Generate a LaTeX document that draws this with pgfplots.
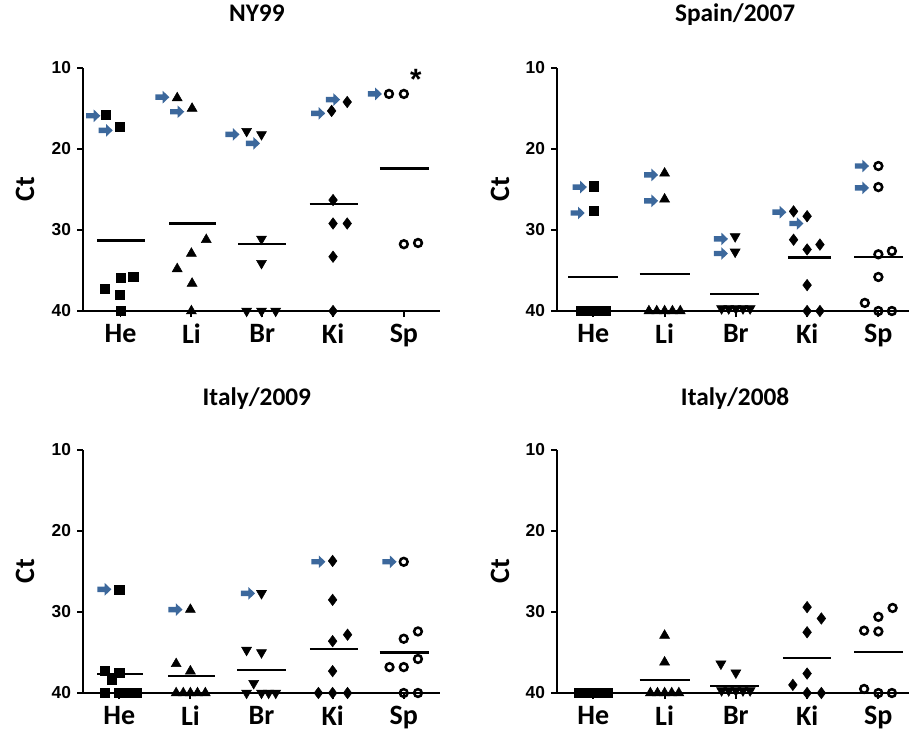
\documentclass[border=0pt]{standalone}
\usepackage{pgfplots}
\pgfplotsset{compat=1.18}
\usepackage{fontspec}
\setmainfont{Carlito}
\newfontfamily\tickfont{Liberation Sans}
\definecolor{arrowblue}{RGB}{60,104,156}
\pgfdeclareplotmark{rarrow}{%
 \pgfpathmoveto{\pgfqpoint{-\pgfplotmarksize}{-0.38\pgfplotmarksize}}%
 \pgfpathlineto{\pgfqpoint{0.05\pgfplotmarksize}{-0.38\pgfplotmarksize}}%
 \pgfpathlineto{\pgfqpoint{0.05\pgfplotmarksize}{-0.9\pgfplotmarksize}}%
 \pgfpathlineto{\pgfqpoint{\pgfplotmarksize}{0pt}}%
 \pgfpathlineto{\pgfqpoint{0.05\pgfplotmarksize}{0.9\pgfplotmarksize}}%
 \pgfpathlineto{\pgfqpoint{0.05\pgfplotmarksize}{0.38\pgfplotmarksize}}%
 \pgfpathlineto{\pgfqpoint{-\pgfplotmarksize}{0.38\pgfplotmarksize}}%
 \pgfpathclose\pgfusepathqfill}
\pgfplotsset{
  heM/.style={only marks, mark=square*, mark size=3.4pt, black},
  liM/.style={only marks, mark=triangle*, mark size=4.3pt, black},
  brM/.style={only marks, mark=triangle*, mark size=4.3pt, black, mark options={rotate=180}},
  kiM/.style={only marks, mark=diamond*, mark size=4.3pt, black},
  spM/.style={only marks, mark=o, mark size=2.9pt, black, mark options={line width=1.9pt}},
  arrM/.style={only marks, mark=rarrow, mark size=5.3pt, arrowblue},
  meanM/.style={black, line width=1.6pt, forget plot},
  axM/.style={black, line width=1.4pt, forget plot, no markers},
}
% axis lines and tick marks drawn through the axis (#1 = xmin, #2 = xmax, #3 = tick end x)
\newcommand{\axdeco}[3]{%
 \addplot[axM] coordinates {(#1,10) (#1,40) (#2,40)};
 \addplot[axM] coordinates {(#1,10) (#3,10)};
 \addplot[axM] coordinates {(#1,20) (#3,20)};
 \addplot[axM] coordinates {(#1,30) (#3,30)};
 \addplot[axM] coordinates {(#1,40) (#3,40)};
 \addplot[axM] coordinates {(1,40) (1,40.74)};
 \addplot[axM] coordinates {(2,40) (2,40.74)};
 \addplot[axM] coordinates {(3,40) (3,40.74)};
 \addplot[axM] coordinates {(4,40) (4,40.74)};
 \addplot[axM] coordinates {(5,40) (5,40.74)};
}
\begin{document}
\begin{tikzpicture}

% ---------------- NY99 ----------------
\begin{axis}[scale only axis, height=182.25pt, width=267.75pt, at={(62.25pt,316.5pt)}, anchor=south west,
  ymin=10, ymax=40, xmin=0.47, xmax=5.51, axis lines*=left, y dir=reverse, tick align=outside, major tick length=4.5pt,
  clip=false, axis line style={line width=1.4pt, black}, major tick style={line width=1.4pt, black},
  /pgf/number format/assume math mode=true,
  ytick={10,20,30,40}, xtick={1,2,3,4,5}, xticklabels={He,Li,Br,Ki,Sp},
  yticklabel style={font=\tickfont\bfseries\fontsize{13}{15}\selectfont, xshift=-1pt},
  xticklabel style={font=\bfseries\fontsize{21}{22}\selectfont, inner sep=1pt, yshift=-4pt},
  ylabel={Ct},
  ylabel style={font=\bfseries\fontsize{21}{22}\selectfont, at={(axis description cs:-0.162,0.5)}, anchor=center},
  title style={font=\bfseries\fontsize{19}{20}\selectfont, anchor=base, inner sep=0pt, at={(axis description cs:0.487,1.16)}},
  title={NY99}]
\addplot[heM] coordinates {(0.79,15.8) (0.99,17.25) (0.78,37.2) (1.0,35.9) (1.18,35.75) (0.99,38.0) (1.0,40)};
\addplot[liM] coordinates {(1.80,13.7) (2.01,15.0) (2.21,31.2) (2.0,32.9) (1.80,34.8) (2.01,36.6) (2.0,40)};
\addplot[brM] coordinates {(2.78,17.8) (2.99,18.2) (2.99,31.1) (2.99,34.1) (2.78,40) (2.99,40) (3.19,40)};
\addplot[kiM] coordinates {(3.98,15.3) (4.2,14.2) (4.0,26.3) (4.0,29.2) (4.2,29.2) (4.0,33.3) (4.0,40)};
\addplot[spM] coordinates {(4.79,13.2) (5.0,13.2) (5.0,31.75) (5.2,31.6)};
\addplot[arrM] coordinates {(0.615,15.9) (0.79,17.7) (1.59,13.6) (1.80,15.4) (2.58,18.2) (2.87,19.3) (3.79,15.6) (4.0,13.9) (4.59,13.2)};
\addplot[meanM] coordinates {(0.67,31.3) (1.34,31.3)};
\addplot[meanM] coordinates {(1.69,29.2) (2.35,29.2)};
\addplot[meanM] coordinates {(2.66,31.7) (3.33,31.7)};
\addplot[meanM] coordinates {(3.67,26.8) (4.35,26.8)};
\addplot[meanM] coordinates {(4.66,22.4) (5.36,22.4)};
\axdeco{0.47}{5.51}{0.385}
\node[font=\tickfont\bfseries\fontsize{22}{22}\selectfont] at (axis cs:5.17,11.4) {*};
\end{axis}

% ---------------- Spain/2007 ----------------
\begin{axis}[scale only axis, height=182.25pt, width=264pt, at={(417.75pt,316.5pt)}, anchor=south west,
  ymin=10, ymax=40, xmin=0.49, xmax=5.43, axis lines*=left, y dir=reverse, tick align=outside, major tick length=4.5pt,
  clip=false, axis line style={line width=1.4pt, black}, major tick style={line width=1.4pt, black},
  /pgf/number format/assume math mode=true,
  ytick={10,20,30,40}, xtick={1,2,3,4,5}, xticklabels={He,Li,Br,Ki,Sp},
  yticklabel style={font=\tickfont\bfseries\fontsize{13}{15}\selectfont, xshift=-1pt},
  xticklabel style={font=\bfseries\fontsize{21}{22}\selectfont, inner sep=1pt, yshift=-4pt},
  ylabel={Ct},
  ylabel style={font=\bfseries\fontsize{21}{22}\selectfont, at={(axis description cs:-0.162,0.5)}, anchor=center},
  title style={font=\bfseries\fontsize{19}{20}\selectfont, anchor=base, inner sep=0pt, at={(axis description cs:0.506,1.16)}},
  title={Spain/2007}]
\addplot[heM] coordinates {(1.0,24.6) (1.0,27.6) (0.83,40) (0.92,40) (1.0,40) (1.09,40) (1.18,40)};
\addplot[liM] coordinates {(2.0,23.0) (2.0,26.2) (1.78,40) (1.89,40) (2.0,40) (2.11,40) (2.22,40)};
\addplot[brM] coordinates {(2.99,30.8) (2.99,32.7) (2.8,39.7) (2.9,39.7) (3.0,39.7) (3.1,39.7) (3.2,39.7)};
\addplot[kiM] coordinates {(3.81,27.7) (4.0,28.3) (3.81,31.2) (4.0,32.4) (4.18,31.8) (4.0,36.8) (4.0,40) (4.18,40)};
\addplot[spM] coordinates {(5.0,22.1) (5.0,24.7) (5.0,33.0) (5.19,32.6) (5.0,35.8) (4.81,39.0) (5.0,40) (5.19,40)};
\addplot[arrM] coordinates {(0.81,24.7) (0.78,27.9) (1.81,23.2) (1.81,26.4) (2.79,31.1) (2.79,32.9) (3.61,27.8) (3.85,29.2) (4.77,22.1) (4.77,24.8)};
\addplot[meanM] coordinates {(0.65,35.8) (1.34,35.8)};
\addplot[meanM] coordinates {(1.65,35.4) (2.35,35.4)};
\addplot[meanM] coordinates {(2.64,37.9) (3.33,37.9)};
\addplot[meanM] coordinates {(3.73,33.4) (4.34,33.4)};
\addplot[meanM] coordinates {(4.66,33.3) (5.35,33.3)};
\axdeco{0.49}{5.43}{0.405}
\end{axis}

% ---------------- Italy/2009 ----------------
\begin{axis}[scale only axis, height=182.25pt, width=267.75pt, at={(62.25pt,30pt)}, anchor=south west,
  ymin=10, ymax=40, xmin=0.49, xmax=5.51, axis lines*=left, y dir=reverse, tick align=outside, major tick length=4.5pt,
  clip=false, axis line style={line width=1.4pt, black}, major tick style={line width=1.4pt, black},
  /pgf/number format/assume math mode=true,
  ytick={10,20,30,40}, xtick={1,2,3,4,5}, xticklabels={He,Li,Br,Ki,Sp},
  yticklabel style={font=\tickfont\bfseries\fontsize{13}{15}\selectfont, xshift=-1pt},
  xticklabel style={font=\bfseries\fontsize{21}{22}\selectfont, inner sep=1pt, yshift=-4pt},
  ylabel={Ct},
  ylabel style={font=\bfseries\fontsize{21}{22}\selectfont, at={(axis description cs:-0.162,0.5)}, anchor=center},
  title style={font=\bfseries\fontsize{19}{20}\selectfont, anchor=base, inner sep=0pt, at={(axis description cs:0.487,1.152)}},
  title={Italy/2009}]
\addplot[heM] coordinates {(1.0,27.2) (0.79,37.3) (1.0,37.5) (0.89,38.4) (0.79,40) (0.99,40) (1.08,40) (1.17,40) (1.25,40)};
\addplot[liM] coordinates {(2.0,29.7) (1.8,36.4) (2.0,37.3) (1.8,40) (1.9,40) (2.0,40) (2.1,40) (2.21,40)};
\addplot[brM] coordinates {(3.0,27.7) (2.79,34.7) (3.0,35.0) (2.89,38.8) (2.79,40) (3.0,40) (3.1,40) (3.2,40)};
\addplot[kiM] coordinates {(4.0,23.7) (4.0,28.5) (4.0,33.6) (4.21,32.8) (4.0,37.3) (3.8,40) (4.0,40) (4.21,40)};
\addplot[spM] coordinates {(5.0,23.8) (5.0,33.3) (5.2,32.4) (4.8,36.8) (5.0,36.8) (5.2,35.8) (5.0,40) (5.2,40)};
\addplot[arrM] coordinates {(0.79,27.2) (1.79,29.7) (2.81,27.7) (3.8,23.8) (4.8,23.8)};
\addplot[meanM] coordinates {(0.69,37.6) (1.34,37.6)};
\addplot[meanM] coordinates {(1.69,37.9) (2.35,37.9)};
\addplot[meanM] coordinates {(2.66,37.2) (3.34,37.2)};
\addplot[meanM] coordinates {(3.68,34.6) (4.35,34.6)};
\addplot[meanM] coordinates {(4.66,35.0) (5.36,35.0)};
\axdeco{0.49}{5.51}{0.405}
\end{axis}

% ---------------- Italy/2008 ----------------
\begin{axis}[scale only axis, height=182.25pt, width=264pt, at={(417.75pt,30pt)}, anchor=south west,
  ymin=10, ymax=40, xmin=0.49, xmax=5.43, axis lines*=left, y dir=reverse, tick align=outside, major tick length=4.5pt,
  clip=false, axis line style={line width=1.4pt, black}, major tick style={line width=1.4pt, black},
  /pgf/number format/assume math mode=true,
  ytick={10,20,30,40}, xtick={1,2,3,4,5}, xticklabels={He,Li,Br,Ki,Sp},
  yticklabel style={font=\tickfont\bfseries\fontsize{13}{15}\selectfont, xshift=-1pt},
  xticklabel style={font=\bfseries\fontsize{21}{22}\selectfont, inner sep=1pt, yshift=-4pt},
  ylabel={Ct},
  ylabel style={font=\bfseries\fontsize{21}{22}\selectfont, at={(axis description cs:-0.162,0.5)}, anchor=center},
  title style={font=\bfseries\fontsize{19}{20}\selectfont, anchor=base, inner sep=0pt, at={(axis description cs:0.506,1.152)}},
  title={Italy/2008}]
\addplot[heM] coordinates {(0.8,40) (0.9,40) (1.0,40) (1.1,40) (1.2,40)};
\addplot[liM] coordinates {(2.0,32.9) (2.0,36.2) (1.8,40) (1.9,40) (2.0,40) (2.1,40) (2.2,40)};
\addplot[brM] coordinates {(2.79,36.4) (3.0,37.5) (2.8,39.7) (2.9,39.7) (3.0,39.7) (3.1,39.7) (3.2,39.7)};
\addplot[kiM] coordinates {(4.0,29.4) (4.2,30.8) (4.0,32.5) (4.0,37.6) (3.8,39.0) (4.0,40) (4.2,40)};
\addplot[spM] coordinates {(5.2,29.5) (5.0,30.6) (4.8,32.3) (5.0,32.4) (4.8,39.5) (5.0,40) (5.19,40)};
\addplot[meanM] coordinates {(0.65,40) (1.34,40)};
\addplot[meanM] coordinates {(1.65,38.4) (2.35,38.4)};
\addplot[meanM] coordinates {(2.64,39.1) (3.33,39.1)};
\addplot[meanM] coordinates {(3.66,35.7) (4.34,35.7)};
\addplot[meanM] coordinates {(4.66,34.9) (5.35,34.9)};
\axdeco{0.49}{5.43}{0.405}
\end{axis}

\pgfresetboundingbox
\path (0,0) rectangle (681.75pt,549.75pt);
\end{tikzpicture}
\end{document}
